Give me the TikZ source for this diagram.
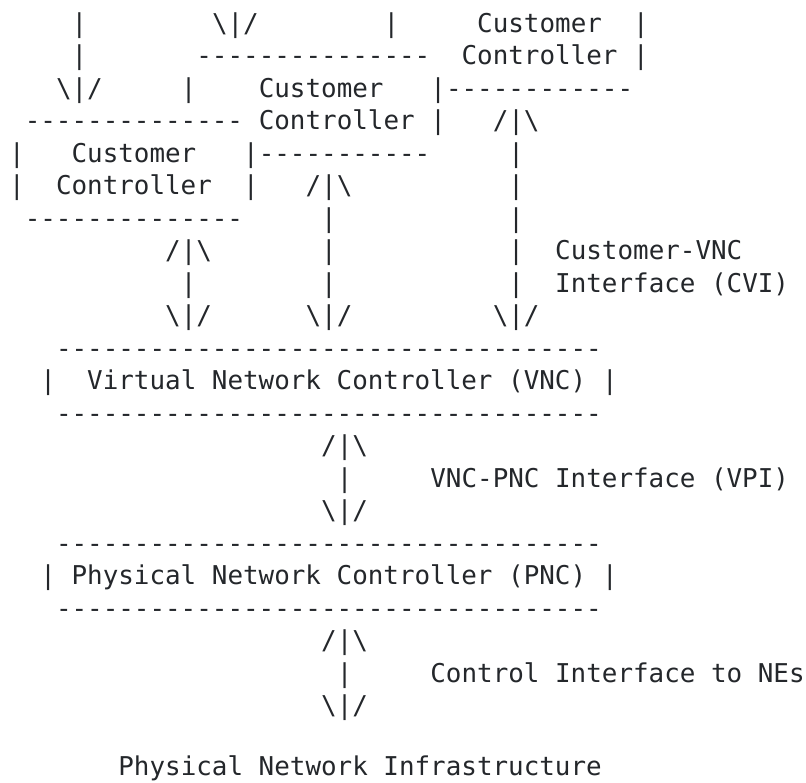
\documentclass[tikz,border=0pt]{standalone}
\usepackage{fontspec}
\setmonofont{DejaVu Sans Mono}
\definecolor{ink}{HTML}{24272B}
\newcommand\bsl{\textbackslash}
\newcommand\ardn{\bsl|/}
\newcommand\arup{/|\bsl}
\newcommand\dsh[1]{\foreach \k in {1,...,#1}{-\kern0pt}}
\tikzset{txt/.style={anchor=base west, inner sep=0pt, outer sep=0pt,
  font=\ttfamily\fontsize{25.9}{32.5}\selectfont, text=ink}}
\newcommand\tx[4]{\node[txt] (#1) at ({9.2pt+15.6pt*#2},{-32pt-32.5pt*(#3-1)}) {#4};}
\begin{document}
\begin{tikzpicture}
\useasboundingbox[fill=white] (0,0) rectangle (806pt,-782pt);
% row 1
\tx{r1a}{4}{1}{|}
\tx{r1b}{13}{1}{\ardn}
\tx{r1c}{24}{1}{|}
\tx{ccA1}{30}{1}{Customer}
\tx{r1e}{40}{1}{|}
% row 2
\tx{r2a}{4}{2}{|}
\tx{r2b}{12}{2}{\dsh{15}}
\tx{ccA2}{29}{2}{Controller}
\tx{r2d}{40}{2}{|}
% row 3
\tx{r3a}{3}{3}{\ardn}
\tx{r3b}{11}{3}{|}
\tx{ccB1}{16}{3}{Customer}
\tx{r3d}{27}{3}{|}
\tx{r3e}{28}{3}{\dsh{12}}
% row 4
\tx{r4a}{1}{4}{\dsh{14}}
\tx{ccB2}{16}{4}{Controller}
\tx{r4c}{27}{4}{|}
\tx{r4d}{31}{4}{\arup}
% row 5
\tx{r5a}{0}{5}{|}
\tx{ccC1}{4}{5}{Customer}
\tx{r5c}{15}{5}{|}
\tx{r5d}{16}{5}{\dsh{11}}
\tx{r5e}{32}{5}{|}
% row 6
\tx{r6a}{0}{6}{|}
\tx{ccC2}{3}{6}{Controller}
\tx{r6c}{15}{6}{|}
\tx{r6d}{19}{6}{\arup}
\tx{r6e}{32}{6}{|}
% row 7
\tx{r7a}{1}{7}{\dsh{14}}
\tx{r7b}{20}{7}{|}
\tx{r7c}{32}{7}{|}
% row 8
\tx{r8a}{10}{8}{\arup}
\tx{r8b}{20}{8}{|}
\tx{r8c}{32}{8}{|}
\tx{cvi1}{35}{8}{Customer-VNC}
% row 9
\tx{r9a}{11}{9}{|}
\tx{r9b}{20}{9}{|}
\tx{r9c}{32}{9}{|}
\tx{cvi2}{35}{9}{Interface (CVI)}
% row 10
\tx{r10a}{10}{10}{\ardn}
\tx{r10b}{19}{10}{\ardn}
\tx{r10c}{31}{10}{\ardn}
% VNC box
\tx{r11}{3}{11}{\dsh{35}}
\tx{r12a}{2}{12}{|}
\tx{vnc}{5}{12}{Virtual Network Controller (VNC)}
\tx{r12c}{38}{12}{|}
\tx{r13}{3}{13}{\dsh{35}}
% VPI
\tx{r14}{20}{14}{\arup}
\tx{r15a}{21}{15}{|}
\tx{vpi}{27}{15}{VNC-PNC Interface (VPI)}
\tx{r16}{20}{16}{\ardn}
% PNC box
\tx{r17}{3}{17}{\dsh{35}}
\tx{r18a}{2}{18}{|}
\tx{pnc}{4}{18}{Physical Network Controller (PNC)}
\tx{r18c}{38}{18}{|}
\tx{r19}{3}{19}{\dsh{35}}
% control interface
\tx{r20}{20}{20}{\arup}
\tx{r21a}{21}{21}{|}
\tx{cif}{27}{21}{Control Interface to NEs}
\tx{r22}{20}{22}{\ardn}
% infrastructure
\node[txt] (pni) at ({9.2pt+15.6pt*7},-775pt) {Physical Network Infrastructure};
\end{tikzpicture}
\end{document}
